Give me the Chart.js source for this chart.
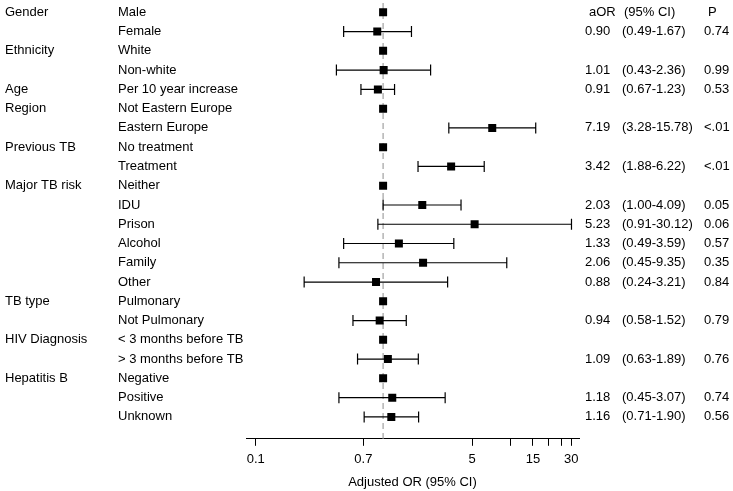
<!DOCTYPE html>
<html lang="en">
<head>
  <meta charset="UTF-8" />
  <title>Adjusted OR forest plot</title>
  <script src="https://cdn.jsdelivr.net/npm/chart.js"></script>
  <style>
    * { margin: 0; padding: 0; box-sizing: border-box; }
    body { background: #fff; }
    .wrap { width: 733px; height: 491px; position: relative; }
  </style>
</head>
<body>
  <div class="wrap"><canvas id="forest"></canvas></div>

  <script>
    // rows, top to bottom
    const groupLabels = ['Gender', '', 'Ethnicity', '', 'Age', 'Region', '', 'Previous TB', '', 'Major TB risk',
      '', '', '', '', '', 'TB type', '', 'HIV Diagnosis', '', 'Hepatitis B', '', ''];
    const rowLabels = ['Male', 'Female', 'White', 'Non-white', 'Per 10 year increase', 'Not Eastern Europe',
      'Eastern Europe', 'No treatment', 'Treatment', 'Neither', 'IDU', 'Prison', 'Alcohol', 'Family', 'Other',
      'Pulmonary', 'Not Pulmonary', '< 3 months before TB', '> 3 months before TB', 'Negative', 'Positive', 'Unknown'];
    const aOR = [1, 0.90, 1, 1.01, 0.91, 1, 7.19, 1, 3.42, 1, 2.03, 5.23, 1.33, 2.06, 0.88, 1, 0.94, 1, 1.09, 1, 1.18, 1.16];
    const ciLow = [null, 0.49, null, 0.43, 0.67, null, 3.28, null, 1.88, null, 1.00, 0.91, 0.49, 0.45, 0.24,
      null, 0.58, null, 0.63, null, 0.45, 0.71];
    const ciHigh = [null, 1.67, null, 2.36, 1.23, null, 15.78, null, 6.22, null, 4.09, 30.12, 3.59, 9.35, 3.21,
      null, 1.52, null, 1.89, null, 3.07, 1.90];
    const pValues = ['', '0.74', '', '0.99', '0.53', '', '<.01', '', '<.01', '', '0.05', '0.06', '0.57', '0.35', '0.84',
      '', '0.79', '', '0.76', '', '0.74', '0.56'];

    // x axis
    const xTicks = [0.1, 0.7, 5, 10, 15, 20, 25, 30];
    const xTickLabels = ['0.1', '0.7', '5', '', '15', '', '', '30'];

    const FONT = '13px "Liberation Sans", Arial, sans-serif';

    const forestPlugin = {
      id: 'forest',
      beforeDatasetsDraw(chart) {
        const { ctx, chartArea, scales: { x, y } } = chart;
        ctx.save();
        // reference line at OR = 1
        const x1 = x.getPixelForValue(1);
        ctx.strokeStyle = '#a8a8a8';
        ctx.lineWidth = 1.3;
        ctx.setLineDash([6, 4]);
        ctx.beginPath();
        ctx.moveTo(x1, chartArea.top + 2);
        ctx.lineTo(x1, chartArea.bottom);
        ctx.stroke();
        ctx.setLineDash([]);
        // confidence intervals
        ctx.strokeStyle = '#000';
        ctx.lineWidth = 1.2;
        for (let i = 0; i < aOR.length; i++) {
          if (ciLow[i] == null) continue;
          const py = y.getPixelForValue(i);
          const a = x.getPixelForValue(ciLow[i]);
          const b = x.getPixelForValue(ciHigh[i]);
          ctx.beginPath();
          ctx.moveTo(a, py); ctx.lineTo(b, py);
          ctx.moveTo(a, py - 5.5); ctx.lineTo(a, py + 5.5);
          ctx.moveTo(b, py - 5.5); ctx.lineTo(b, py + 5.5);
          ctx.stroke();
        }
        ctx.restore();
      },
      afterDraw(chart) {
        const { ctx, scales: { y } } = chart;
        ctx.save();
        ctx.font = FONT;
        ctx.fillStyle = '#000';
        ctx.textBaseline = 'middle';
        ctx.textAlign = 'left';
        for (let i = 0; i < rowLabels.length; i++) {
          const py = y.getPixelForValue(i);
          if (groupLabels[i]) ctx.fillText(groupLabels[i], 5, py);
          ctx.fillText(rowLabels[i], 118, py);
          if (ciLow[i] != null) {
            ctx.fillText(aOR[i].toFixed(2), 585, py);
            ctx.fillText('(' + ciLow[i].toFixed(2) + '-' + ciHigh[i].toFixed(2) + ')', 622, py);
            ctx.fillText(pValues[i], 704, py);
          }
        }
        const hy = y.getPixelForValue(0);
        ctx.fillText('aOR', 589, hy);
        ctx.fillText('(95% CI)', 624, hy);
        ctx.fillText('P', 708, hy);
        ctx.restore();
      }
    };

    new Chart(document.getElementById('forest'), {
      type: 'scatter',
      data: {
        datasets: [{
          data: aOR.map((v, i) => ({ x: v, y: i })),
          pointStyle: 'rect',
          pointRadius: 5.66,
          backgroundColor: '#000',
          borderColor: '#000',
          borderWidth: 0
        }]
      },
      plugins: [forestPlugin],
      options: {
        responsive: true,
        maintainAspectRatio: false,
        animation: false,
        events: [],
        layout: { autoPadding: false, padding: { left: 246, right: 154, top: 1, bottom: 0 } },
        plugins: { legend: { display: false }, tooltip: { enabled: false } },
        scales: {
          x: {
            type: 'logarithmic',
            min: 0.0839,
            max: 34.5,
            afterBuildTicks: scale => { scale.ticks = xTicks.map(v => ({ value: v })); },
            ticks: {
              autoSkip: false,
              maxRotation: 0,
              padding: 6,
              color: '#000',
              font: { family: '"Liberation Sans", Arial, sans-serif', size: 13 },
              callback: (value, index) => xTickLabels[index]
            },
            grid: { drawOnChartArea: false, drawTicks: true, tickLength: 7, color: '#000', lineWidth: 1 },
            border: { display: true, color: '#000', width: 1 },
            title: {
              display: true,
              text: 'Adjusted OR (95% CI)',
              color: '#000',
              font: { family: '"Liberation Sans", Arial, sans-serif', size: 13 },
              padding: { top: 1, bottom: 1 }
            }
          },
          y: {
            type: 'linear',
            reverse: true,
            min: -0.588,
            max: 22.137,
            display: false
          }
        }
      }
    });
  </script>
</body>
</html>
